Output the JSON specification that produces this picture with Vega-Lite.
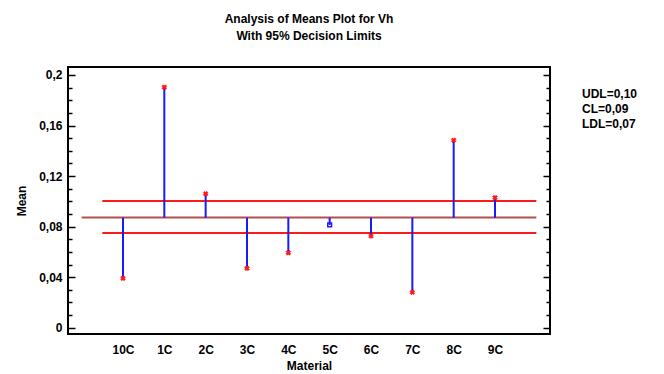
{
  "$schema": "https://vega.github.io/schema/vega-lite/v6.json",
  "width": 482,
  "height": 267,
  "autosize": {"type": "none"},
  "padding": {"left": 68, "top": 67, "right": 114, "bottom": 40},
  "background": "white",
  "config": {
    "font": "Liberation Sans",
    "view": {"stroke": "black", "strokeWidth": 2},
    "axis": {"grid": false, "labelFont": "Liberation Sans", "labelFontWeight": "bold", "labelFontSize": 12, "labelColor": "black", "titleFont": "Liberation Sans", "titleFontWeight": "bold", "titleFontSize": 12, "titleColor": "black", "tickColor": "black", "tickWidth": 1.5, "domain": false}
  },
  "title": {
    "text": ["Analysis of Means Plot for Vh", "With 95% Decision Limits"],
    "anchor": "middle",
    "font": "Liberation Sans",
    "fontSize": 12,
    "fontWeight": "bold",
    "color": "black",
    "lineHeight": 17,
    "offset": 24
  },
  "datasets": {
    "means": [
      {"material": "10C", "i": 0, "mean": 0.0391, "status": "out"},
      {"material": "1C", "i": 1, "mean": 0.1903, "status": "out"},
      {"material": "2C", "i": 2, "mean": 0.106, "status": "out"},
      {"material": "3C", "i": 3, "mean": 0.047, "status": "out"},
      {"material": "4C", "i": 4, "mean": 0.0593, "status": "out"},
      {"material": "5C", "i": 5, "mean": 0.0813, "status": "in"},
      {"material": "6C", "i": 6, "mean": 0.0725, "status": "out"},
      {"material": "7C", "i": 7, "mean": 0.028, "status": "out"},
      {"material": "8C", "i": 8, "mean": 0.1483, "status": "out"},
      {"material": "9C", "i": 9, "mean": 0.1029, "status": "out"}
    ],
    "limits": [
      {"label": "UDL=0,10", "value": 0.1003, "start": -0.5, "end": 10},
      {"label": "CL=0,09", "value": 0.0871, "start": -1, "end": 10},
      {"label": "LDL=0,07", "value": 0.075, "start": -0.5, "end": 10}
    ]
  },
  "layer": [
    {
      "data": {"name": "limits"},
      "mark": {"type": "rule", "strokeWidth": 2},
      "encoding": {
        "x": {"field": "start", "type": "quantitative", "scale": {"domain": [-1.33, 10.33], "nice": false, "zero": false},
          "axis": {"values": [0,1,2,3,4,5,6,7,8,9], "labelExpr": "['10C','1C','2C','3C','4C','5C','6C','7C','8C','9C'][datum.value]", "ticks": false, "labelPadding": 10, "title": "Material", "titlePadding": 5}},
        "x2": {"field": "end"},
        "y": {"field": "value", "type": "quantitative", "scale": {"domain": [-0.005, 0.2063], "nice": false, "zero": false},
          "axis": {"values": [0, 0.04, 0.08, 0.12, 0.16, 0.2], "labelExpr": "replace(toString(datum.value), '.', ',')", "tickSize": -7, "labelPadding": 13, "title": "Mean", "titlePadding": 10}},
        "color": {"field": "label", "type": "nominal",
          "scale": {"domain": ["UDL=0,10", "CL=0,09", "LDL=0,07"], "range": ["#ff1a1a", "#b05050", "#ff1a1a"]},
          "legend": {"orient": "none", "legendX": 502, "legendY": 21, "title": null, "symbolSize": 0, "symbolOpacity": 0, "symbolStrokeWidth": 0, "labelOffset": 0, "labelFont": "Liberation Sans", "labelFontWeight": "bold", "labelFontSize": 12, "labelColor": "black", "rowPadding": 3}}
      }
    },
    {
      "data": {"name": "means"},
      "mark": {"type": "rule", "color": "#1a1aff", "strokeWidth": 2},
      "encoding": {
        "x": {"field": "i", "type": "quantitative"},
        "y": {"field": "mean", "type": "quantitative", "axis": null},
        "y2": {"datum": 0.0871}
      }
    },
    {
      "data": {"name": "means"},
      "transform": [{"filter": "datum.status == 'out'"}],
      "mark": {"type": "point", "shape": "cross", "angle": 45, "filled": true, "color": "#ff1a1a", "stroke": "#ff1a1a", "strokeWidth": 0.6, "size": 24, "opacity": 1},
      "encoding": {
        "x": {"field": "i", "type": "quantitative"},
        "y": {"field": "mean", "type": "quantitative", "axis": null}
      }
    },
    {
      "data": {"name": "means"},
      "transform": [{"filter": "datum.status == 'in'"}],
      "mark": {"type": "point", "shape": "square", "filled": false, "color": "#1a1aff", "size": 14, "strokeWidth": 1.5, "opacity": 1},
      "encoding": {
        "x": {"field": "i", "type": "quantitative"},
        "y": {"field": "mean", "type": "quantitative", "axis": null}
      }
    },
    {
      "data": {"name": "limits"},
      "mark": {"type": "rule", "opacity": 0},
      "encoding": {
        "y": {"field": "value", "type": "quantitative", "axis": {"orient": "left", "values": [0.01,0.02,0.03,0.05,0.06,0.07,0.09,0.1,0.11,0.13,0.14,0.15,0.17,0.18,0.19], "labels": false, "tickSize": -4, "title": null}}
      }
    },
    {
      "data": {"name": "limits"},
      "mark": {"type": "rule", "opacity": 0},
      "encoding": {
        "y": {"field": "value", "type": "quantitative", "axis": {"orient": "right", "values": [0, 0.04, 0.08, 0.12, 0.16, 0.2], "labels": false, "tickSize": -7, "title": null}}
      }
    },
    {
      "data": {"name": "limits"},
      "mark": {"type": "rule", "opacity": 0},
      "encoding": {
        "y": {"field": "value", "type": "quantitative", "axis": {"orient": "right", "values": [0.01,0.02,0.03,0.05,0.06,0.07,0.09,0.1,0.11,0.13,0.14,0.15,0.17,0.18,0.19], "labels": false, "tickSize": -4, "title": null}}
      }
    }
  ],
  "resolve": {"axis": {"y": "independent"}}
}
